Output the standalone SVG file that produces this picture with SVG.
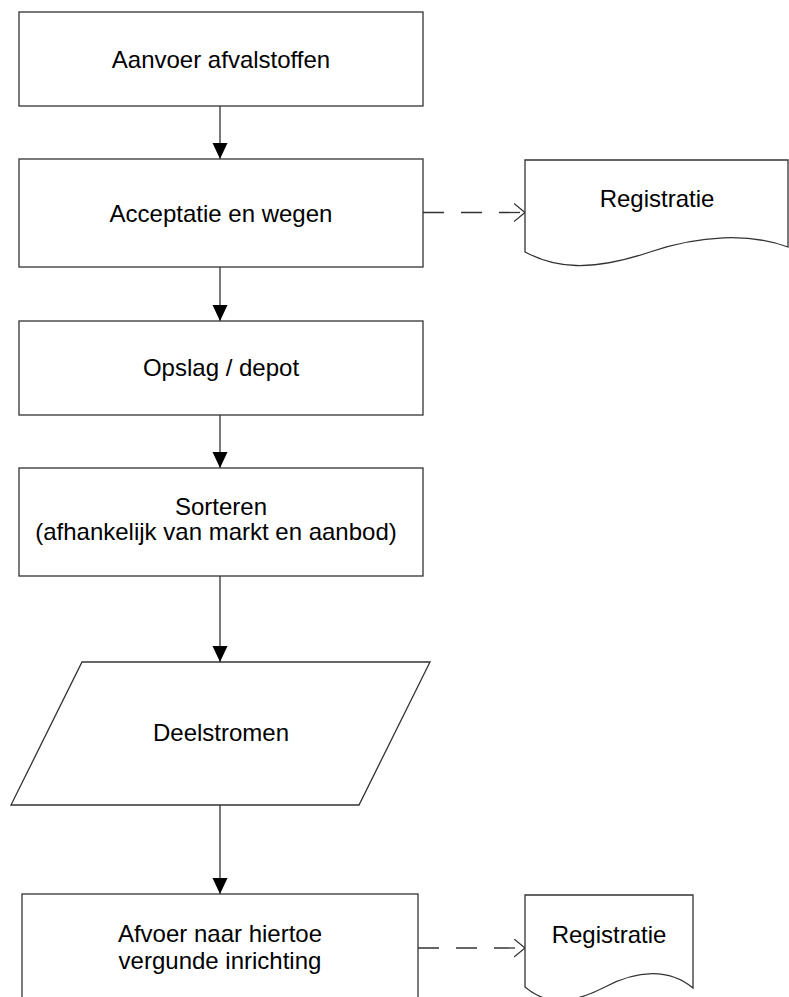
<svg xmlns="http://www.w3.org/2000/svg" width="789" height="997" viewBox="0 0 789 997">
<style>
.shape{fill:#fff;stroke:#333;stroke-width:1.3}
.lbl{font-family:"Liberation Sans",Arial,sans-serif;font-size:24px;fill:#000;text-anchor:middle}
.flow{stroke:#333;stroke-width:1.3;fill:none}
.dash{stroke:#333;stroke-width:1.3;fill:none;stroke-dasharray:21 17}
</style>
<defs>
<marker id="tri" markerUnits="userSpaceOnUse" markerWidth="16" markerHeight="17" refX="16" refY="7.5" orient="auto">
<path d="M0,0 L16,7.5 L0,15 Z" fill="#000"/>
</marker>
<marker id="open" markerUnits="userSpaceOnUse" markerWidth="13" markerHeight="20" refX="11.5" refY="9.5" orient="auto">
<path d="M0.5,0.5 L11.5,9.5 L0.5,18.5" fill="none" stroke="#333" stroke-width="1.3"/>
</marker>
</defs>
<g id="connectors">
<line class="flow" x1="220" y1="106" x2="220" y2="159" marker-end="url(#tri)"/>
<line class="flow" x1="220" y1="267" x2="220" y2="321" marker-end="url(#tri)"/>
<line class="flow" x1="220" y1="415" x2="220" y2="468" marker-end="url(#tri)"/>
<line class="flow" x1="220" y1="576" x2="220" y2="662" marker-end="url(#tri)"/>
<line class="flow" x1="220" y1="805" x2="220" y2="894" marker-end="url(#tri)"/>
<line class="dash" x1="423" y1="212.5" x2="525" y2="212.5" marker-end="url(#open)"/>
<line class="dash" x1="418" y1="948" x2="525" y2="948" marker-end="url(#open)"/>
</g>
<g id="n1">
<rect class="shape" x="19" y="12" width="404" height="94"/>
<text class="lbl" x="221" y="68">Aanvoer afvalstoffen</text>
</g>
<g id="n2">
<rect class="shape" x="19" y="159" width="404" height="108"/>
<text class="lbl" x="221" y="222">Acceptatie en wegen</text>
</g>
<g id="doc1">
<path class="shape" d="M525,160 H788 V247 C750,233 700,235 650,252 C590,272 555,268 525,252 Z"/>
<text class="lbl" x="657" y="207">Registratie</text>
</g>
<g id="n3">
<rect class="shape" x="19" y="321" width="404" height="94"/>
<text class="lbl" x="221" y="376">Opslag / depot</text>
</g>
<g id="n4">
<rect class="shape" x="19" y="468" width="404" height="108"/>
<text class="lbl" x="221" y="515">Sorteren</text>
<text class="lbl" x="216" y="540">(afhankelijk van markt en aanbod)</text>
</g>
<g id="n5">
<polygon class="shape" points="82,662 430,662 359,805 11,805"/>
<text class="lbl" x="221" y="741">Deelstromen</text>
</g>
<g id="n6">
<rect class="shape" x="22" y="894" width="396" height="120"/>
<text class="lbl" x="220" y="942">Afvoer naar hiertoe</text>
<text class="lbl" x="220" y="969">vergunde inrichting</text>
</g>
<g id="doc2">
<path class="shape" d="M525,895 H693 V988 C669,968 637,970 605,987 C566,1007 544,1003 525,987 Z"/>
<text class="lbl" x="609" y="943">Registratie</text>
</g>
</svg>
